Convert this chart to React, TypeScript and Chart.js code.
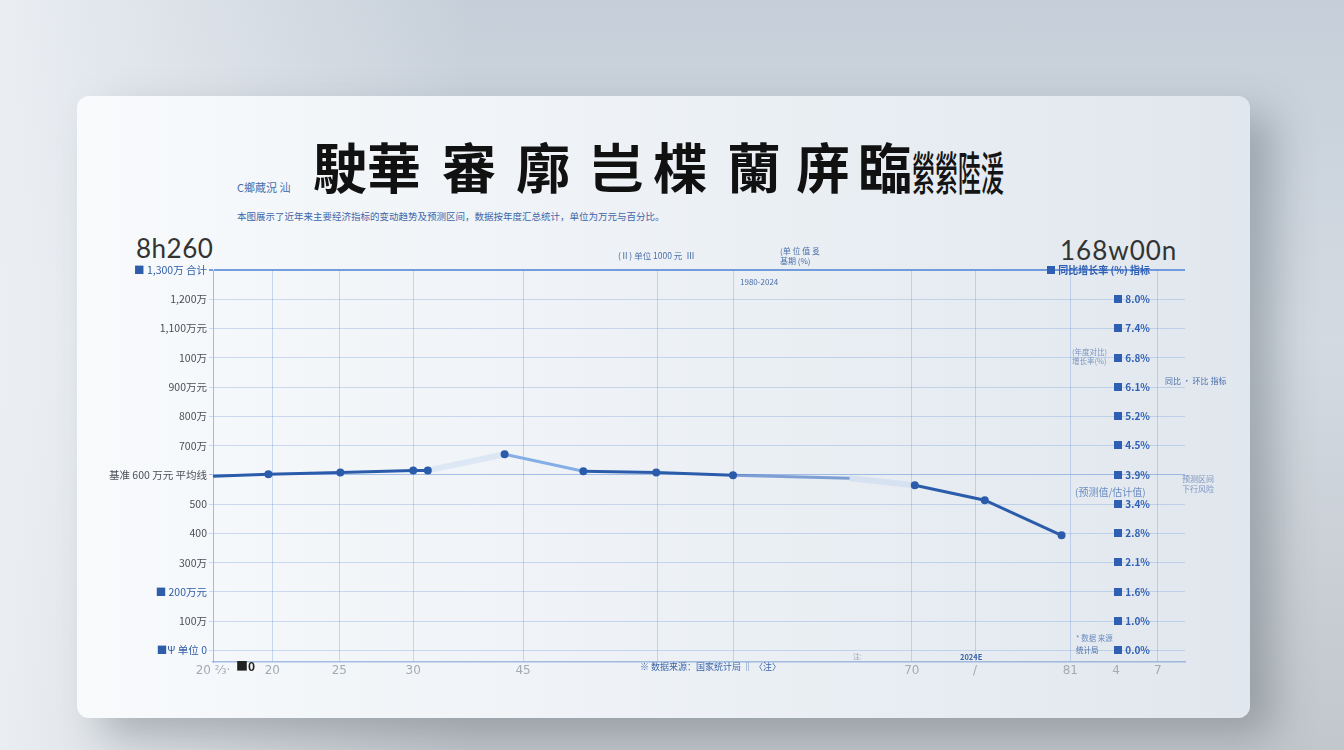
import React, { useEffect, useRef } from "react";
import { Chart, registerables } from "chart.js";
Chart.register(...registerables);

// ---- data ----
const xValues = [0, 5.7, 13.1, 20.6, 22.1, 30.0, 38.1, 45.6, 53.5, 65.5, 72.2, 79.4, 87.3];
const seriesValues = [59.5, 60.2, 60.8, 61.5, 61.5, 67.0, 61.2, 60.8, 59.8, 58.8, 56.4, 51.3, 39.3];
const xTickValues = [0, 6.1, 13.0, 20.6, 31.9, 45.7, 53.5, 71.9, 78.4, 88.2, 92.9, 97.2];
const xTickLabels = ["20 ⅔·", "20", "25", "30", "45", "", "", "70", "/", "81", "4", "7"];
const yTickValues = [0, 10, 20, 30, 40, 50, 60, 70, 80, 90, 100, 110, 120, 130];
const leftTickLabels = [
  "■Ψ 单位 0", "100万", "■ 200万元", "300万", "400", "500",
  "基准 600 万元 平均线", "700万", "800万", "900万元", "100万", "1,100万元", "1,200万", "■ 1,300万 合计",
];
const rightTickLabels = [
  "■ 0.0%", "■ 1.0%", "■ 1.6%", "■ 2.1%", "■ 2.8%", "■ 3.4%", "■ 3.9%",
  "■ 4.5%", "■ 5.2%", "■ 6.1%", "■ 6.8%", "■ 7.4%", "■ 8.0%", "■ 同比增长率 (%) 指标",
];
const titleGroups = ["駛華", "審", "廓", "岂", "楪", "蘭", "庰", "臨"];
const titleSmall = "縈縈陸湲";
const titleLefts = [313, 442, 516, 589, 653, 727, 796, 858];

const blueLabelIdx = [0, 2, 13];

export default function App() {
  const ref = useRef<HTMLCanvasElement | null>(null);
  useEffect(() => {
    if (!ref.current) return;
    const chart = new Chart(ref.current, {
      type: "line",
      data: {
        datasets: [
          {
            data: xValues.map((x, i) => ({ x, y: seriesValues[i] })),
            borderColor: "#2b5cab",
            borderWidth: 3,
            pointRadius: (ctx: any) => (ctx.dataIndex === 9 || ctx.dataIndex === 0 ? 0 : 2.5),
            pointBackgroundColor: "#2b5cab",
            pointBorderColor: "#2b5cab",
            tension: 0,
            segment: {
              borderColor: (ctx: any) => {
                const i = ctx.p0DataIndex;
                if (i === 4 || i === 9) return "rgba(150,185,235,0.22)";
                if (i === 5) return "#86aee6";
                if (i === 8) return "rgba(55,105,190,0.6)";
                return "#2b5cab";
              },
              borderWidth: (ctx: any) => (ctx.p0DataIndex === 4 || ctx.p0DataIndex === 9 ? 6 : 3),
            },
          },
        ],
      },
      options: {
        animation: false,
        responsive: false,
        maintainAspectRatio: false,
        layout: { padding: { top: 270, left: 0, right: 0, bottom: 0 } },
        plugins: { legend: { display: false }, tooltip: { enabled: false }, title: { display: false } },
        scales: {
          x: {
            type: "linear",
            min: 0,
            max: 100,
            afterBuildTicks: (s: any) => {
              s.ticks = xTickValues.map((v) => ({ value: v }));
            },
            afterFit: (s: any) => {
              s.height = 88;
            },
            ticks: {
              autoSkip: false,
              maxRotation: 0,
              padding: 2,
              color: "#a3abb5",
              font: { size: 12, family: "DejaVu Sans" },
              callback: (_v: any, i: number) => xTickLabels[i],
            },
            grid: {
              drawTicks: false,
              color: (ctx: any) => (ctx.index === 10 ? "rgba(0,0,0,0)" : "rgba(120,160,220,0.38)"),
            },
            border: { color: "rgba(110,150,210,0.6)", width: 1.5 },
          },
          y: {
            type: "linear",
            position: "left",
            min: -4,
            max: 130,
            afterBuildTicks: (s: any) => {
              s.ticks = yTickValues.map((v) => ({ value: v }));
            },
            afterFit: (s: any) => {
              s.width = 213;
            },
            ticks: {
              autoSkip: false,
              padding: 2,
              color: (ctx: any) => (blueLabelIdx.includes(ctx.index) ? "#2f5ea8" : "#4a4f57"),
              font: { size: 10.5, family: "Noto Sans CJK SC" },
              callback: (_v: any, i: number) => leftTickLabels[i],
            },
            grid: {
              tickLength: 4,
              color: (ctx: any) =>
                ctx.index === 13 ? "rgba(85,135,215,0.8)" : ctx.index === 6 ? "rgba(100,145,215,0.55)" : "rgba(120,160,220,0.35)",
              lineWidth: (ctx: any) => (ctx.index === 13 ? 2 : 1),
            },
            border: { color: "rgba(120,160,220,0.5)" },
          },
          y2: {
            type: "linear",
            position: "right",
            min: -4,
            max: 130,
            afterBuildTicks: (s: any) => {
              s.ticks = yTickValues.map((v) => ({ value: v }));
            },
            afterFit: (s: any) => {
              s.width = 159;
            },
            ticks: {
              autoSkip: false,
              mirror: true,
              padding: -35,
              color: "#2f5fb3",
              font: { size: 10, family: "Noto Sans CJK SC", weight: "bold" },
              callback: (_v: any, i: number) => rightTickLabels[i],
            },
            grid: { drawOnChartArea: false, drawTicks: false },
            border: { display: false },
          },
        },
      },
    });
    return () => chart.destroy();
  }, []);

  const small = (left: number, top: number, text: string, size = 8, color = "#5a7fb8", extra: any = {}) => (
    <div
      style={{
        position: "absolute",
        left,
        top,
        fontSize: size,
        color,
        fontFamily: "Noto Sans CJK SC",
        whiteSpace: "pre",
        lineHeight: 1.2,
        ...extra,
      }}
    >
      {text}
    </div>
  );

  return (
    <div
      style={{
        position: "fixed",
        left: 0,
        top: 0,
        width: 1344,
        height: 750,
        overflow: "hidden",
        background:
          "linear-gradient(90deg, rgba(238,241,245,0.9) 0%, rgba(238,241,245,0) 35%), linear-gradient(180deg, #c6cfd9 0%, #d3dae2 45%, #c2c7cc 100%)",
      }}
    >
      <div
        style={{
          position: "absolute",
          left: 77,
          top: 96,
          width: 1173,
          height: 622,
          borderRadius: 12,
          background: "linear-gradient(90deg, #f8fafc 0%, #eef2f6 45%, #e1e7ee 100%)",
          boxShadow: "24px 18px 40px rgba(70,80,90,0.35)",
        }}
      />
      {titleGroups.map((g, i) => (
        <div
          key={i}
          style={{
            position: "absolute",
            left: titleLefts[i],
            top: 134,
            fontSize: 54,
            lineHeight: "64px",
            fontWeight: 700,
            color: "#111",
            fontFamily: "Noto Sans CJK SC",
            whiteSpace: "pre",
          }}
        >
          {g}
        </div>
      ))}
      <div
        style={{
          position: "absolute",
          left: 912,
          top: 140,
          fontSize: 46,
          lineHeight: "60px",
          fontWeight: 500,
          color: "#151515",
          fontFamily: "Noto Sans CJK SC",
          transform: "scaleX(0.5)",
          transformOrigin: "left top",
          whiteSpace: "pre",
        }}
      >
        {titleSmall}
      </div>
      {small(237, 181, "C鄉蔵況 汕", 11, "#4a6da8")}
      {small(237, 211, "本图展示了近年来主要经济指标的变动趋势及预测区间，数据按年度汇总统计，单位为万元与百分比。", 9.5, "#3d65a8")}
      <div
        style={{
          position: "absolute",
          left: 136,
          top: 232,
          fontSize: 26,
          color: "#333",
          fontFamily: "Lato",
          letterSpacing: 0.5,
        }}
      >
        8h260
      </div>
      <div
        style={{
          position: "absolute",
          left: 1060,
          top: 234,
          fontSize: 26,
          color: "#333",
          fontFamily: "Lato",
          letterSpacing: 1,
        }}
      >
        168w00n
      </div>
      <canvas ref={ref} width={1344} height={750} style={{ position: "absolute", left: 0, top: 0 }} />
      {small(618, 250, "(Ⅱ) 单位 1000 元  Ⅲ", 8.5, "#4a6faa")}
      {small(780, 246, "(单 位 值 㕛\n基期 (%)", 8, "#4a6faa")}
      {small(740, 277, "1980-2024", 8, "#4a6faa")}
      {small(1072, 347, "(年度对比)\n增长率(%)", 7.5, "#7d95bd")}
      {small(1165, 376, "同比 · 环比 指标", 8, "#4a6faa")}
      {small(1182, 474, "预测区间\n下行风险", 8, "#7d95bd")}
      {small(1075, 486, "(预测值/估计值)", 10, "#6a8cc0")}
      {small(1076, 633, "* 数据 来源", 7.5, "#6a8cc0")}
      {small(1076, 645, "统计局", 7.5, "#4a6faa")}
      {small(853, 652, "注:", 7, "#9aa7b8")}
      {small(960, 652, "2024E", 7.5, "#3d65a8", { fontWeight: 700 })}
      {small(640, 662, "※ 数据来源：国家统计局 ‖ 〈注〉", 9, "#3d65a8")}
      {small(236, 659, "■0", 12, "#222", { fontWeight: 700 })}
    </div>
  );
}
